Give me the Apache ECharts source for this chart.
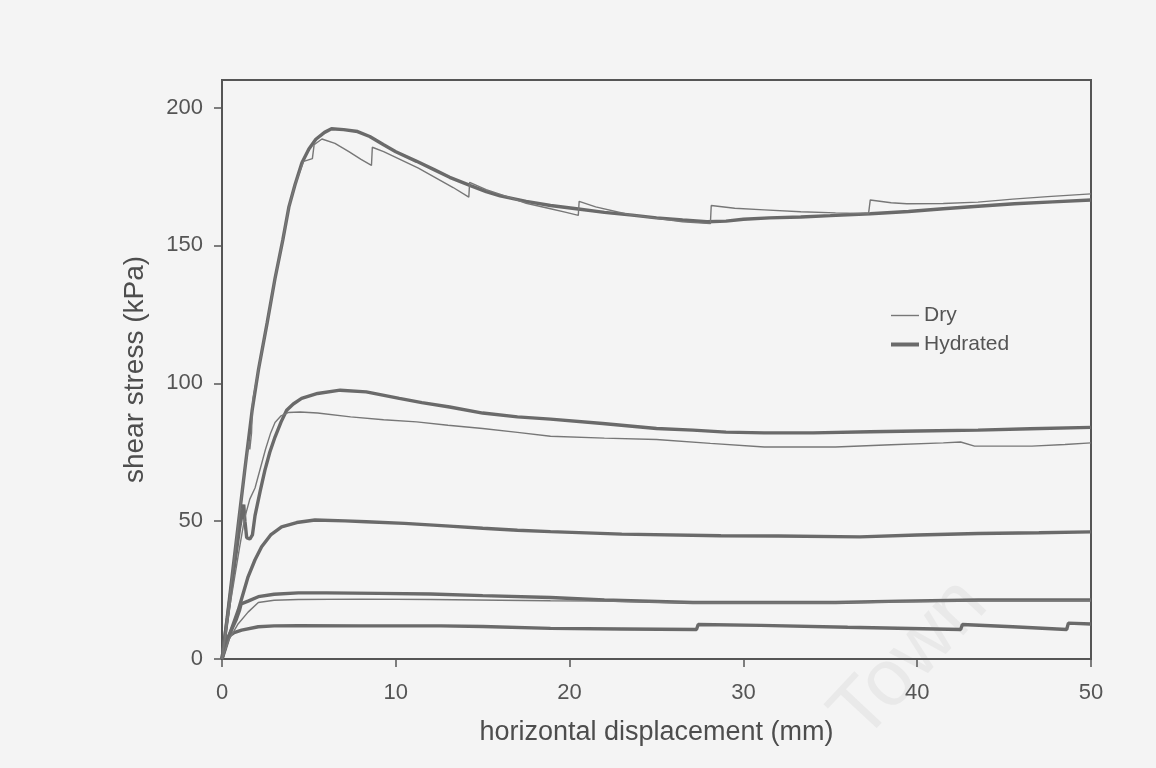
<!DOCTYPE html>
<html>
<head>
<meta charset="utf-8">
<script src="https://cdn.jsdelivr.net/npm/echarts@6/dist/echarts.min.js"></script>
<style>
  body { margin: 0; background: #f4f4f4; }
  #chart { width: 1156px; height: 768px; }
</style>
</head>
<body>
<div id="chart"></div>
<script>
// [displacement mm, shear stress kPa]
let hydrated1 = [[0,0],[0.3,15],[0.6,31],[0.92,48],[1.3,68],[1.73,90],[2.1,105],[2.6,122],[3.05,138],[3.5,152],[3.85,164],[4.2,172],[4.6,180],[5.0,185],[5.4,188.5],[5.9,191],[6.3,192.3],[7.0,192],[7.8,191.3],[8.5,189.5],[9.3,186.5],[10.0,184],[11.2,180.5],[12.2,177.5],[13.1,174.7],[14.3,171.7],[15.2,169.5],[16.0,168],[17.5,166],[18.9,164.5],[20.5,163.2],[22,162],[23.6,161],[25,160],[26.5,159.2],[27.9,158.6],[29,158.8],[30,159.5],[31.5,160],[33.3,160.3],[35,160.8],[37.3,161.5],[39.5,162.3],[41.5,163.3],[43.5,164.2],[45.6,165.1],[47.8,165.8],[50,166.5]];
let hydrated2 = [[0,0],[0.5,24],[1.0,47],[1.25,56],[1.32,50],[1.42,44],[1.6,43.5],[1.75,45],[1.9,52],[2.2,61],[2.47,68.5],[2.75,75],[3.05,80.5],[3.4,86],[3.72,90.2],[4.1,92.5],[4.58,94.5],[5.5,96.3],[6.8,97.5],[8.3,96.9],[10.2,94.5],[11.5,93],[13.1,91.4],[15,89.2],[17,87.8],[18.9,87],[21.9,85.4],[25,83.6],[27.1,83],[29,82.3],[31.2,82],[34,82],[37.3,82.4],[40,82.7],[43.5,83],[46.5,83.5],[50,84]];
let hydrated3 = [[0,0],[0.17,3.3],[0.5,10],[0.94,17.8],[1.5,29.8],[1.9,36],[2.28,40.7],[2.8,45],[3.43,47.9],[4.3,49.5],[5.35,50.4],[7.08,50.1],[8.3,49.8],[10.5,49.2],[13.1,48.2],[15,47.4],[17,46.7],[18.9,46.2],[23,45.3],[28.7,44.7],[32,44.6],[36.7,44.3],[40,45],[43.5,45.5],[47,45.8],[50,46.1]];
let hydrated4 = [[0,0],[0.36,8.1],[0.8,14],[1.0,17.5],[1.1,20],[1.5,21],[2.09,22.6],[3,23.5],[4.39,24],[6,24],[9,23.8],[12,23.6],[15,23],[18.9,22.3],[22,21.4],[27.1,20.5],[31,20.5],[35.3,20.5],[39,21],[43.5,21.4],[50,21.4]];
let hydrated5 = [[0,0],[0.1,3.3],[0.36,8.1],[0.7,9.6],[1.13,10.5],[2.09,11.7],[3,12],[4.39,12.1],[8,12],[12.6,12],[12.7,12.3],[15,11.8],[18.9,11.1],[23,10.9],[27.3,10.7],[27.4,12.5],[31,12.2],[36,11.5],[42.5,10.7],[42.6,12.5],[45.5,11.7],[48.6,10.7],[48.7,13],[50,12.7]];

let dry1 = [[0,0],[0.3,15],[0.6,31],[0.92,48],[1.3,68],[1.55,79],[1.6,76],[1.7,82],[1.75,92],[1.8,95],[2.1,105],[2.6,122],[3.05,138],[3.5,152],[3.85,164],[4.2,172],[4.7,180.5],[5.2,181.5],[5.3,186.5],[5.75,188.6],[6.5,187],[7.3,184],[8.0,181.2],[8.6,179],[8.65,185.6],[9.3,184],[10.3,181],[11.3,178],[12.3,174.5],[13.3,171],[14.2,167.5],[14.25,172.9],[15.2,170.2],[16.5,167.5],[17.5,165.3],[18.9,163.3],[19.8,162],[20.5,160.9],[20.55,166],[21.5,164],[23.4,161.2],[25,159.8],[26.5,158.6],[28.1,157.9],[28.15,164.5],[29.5,163.5],[31.2,162.9],[33.3,162.2],[35.3,161.8],[37.2,161.5],[37.3,166.5],[38.5,165.5],[39.4,165.1],[41.5,165.2],[43.5,165.7],[45.5,166.8],[47.5,167.7],[50,168.7]];
let dry2 = [[0,0],[0.5,21],[1.0,40],[1.3,51],[1.6,58],[1.9,62],[2.2,69],[2.5,76],[2.8,82],[3.05,85.8],[3.4,88.2],[3.8,89.4],[4.5,89.6],[5.5,89.2],[7.4,87.8],[9.3,86.8],[11.2,86],[13,84.8],[15,83.6],[17,82.2],[18.9,80.8],[22,80.1],[25,79.6],[28.1,78.2],[31.2,76.9],[35.3,76.9],[38.5,77.7],[41.5,78.4],[42.5,78.7],[43.3,77.2],[46.6,77.2],[48.5,77.8],[50,78.4]];
let dry4 = [[0,0],[0.4,7],[0.9,12.5],[1.5,17],[2.09,20.5],[3,21.3],[4.39,21.6],[8,21.7],[12,21.6],[16,21.3],[18.9,21.1],[22,21],[27,20.3],[35,20.3],[43,21.1],[50,21.1]];

let xTicks = [0, 10, 20, 30, 40, 50];
let yTicks = [0, 50, 100, 150, 200];

let hydratedSets = [hydrated1, hydrated2, hydrated3, hydrated4, hydrated5];
let drySets = [dry1, dry2, dry4];

let fontName = '"Liberation Sans", Arial, sans-serif';
let thickWidth = 3.4;
let thinWidth = 1.4;

function makeSeries(name, data, width, color) {
    return {
        name: name,
        type: 'line',
        data: data,
        symbol: 'none',
        silent: true,
        lineStyle: { width: width, color: color },
        itemStyle: { color: color }
    };
}

let series = [];
hydratedSets.forEach(function(d) { series.push(makeSeries('Hydrated', d, thickWidth, '#6a6a6a')); });
drySets.forEach(function(d) { series.push(makeSeries('Dry', d, thinWidth, '#777777')); });

let chart = echarts.init(document.getElementById('chart'));

let options = {
    animation: false,
    backgroundColor: '#f4f4f4',
    grid: {
        left: 222, right: 65, top: 80, bottom: 109,
        show: true,
        borderColor: '#555',
        borderWidth: 2,
        backgroundColor: 'transparent'
    },
    legend: {
        orient: 'vertical',
        left: 884,
        top: 300,
        itemWidth: 28,
        itemHeight: 14,
        itemGap: 8,
        itemStyle: { opacity: 0 },
        data: [
            { name: 'Dry', lineStyle: { width: thinWidth, color: '#777777' } },
            { name: 'Hydrated', lineStyle: { width: thickWidth + 0.6, color: '#6a6a6a' } }
        ],
        textStyle: { fontSize: 21, color: '#555', fontFamily: fontName }
    },
    xAxis: {
        type: 'value',
        min: xTicks[0],
        max: xTicks[xTicks.length - 1],
        interval: 10,
        name: 'horizontal displacement (mm)',
        nameLocation: 'middle',
        nameGap: 60,
        nameTextStyle: { fontSize: 27, color: '#4d4d4d', fontFamily: fontName },
        axisLine: { lineStyle: { color: '#555', width: 2 } },
        axisTick: { inside: false, length: 8, lineStyle: { color: '#555', width: 1.5 } },
        axisLabel: { fontSize: 22, color: '#555', margin: 23, fontFamily: fontName },
        splitLine: { show: false }
    },
    yAxis: {
        type: 'value',
        min: yTicks[0],
        max: 210,
        interval: 50,
        name: 'shear stress (kPa)',
        nameLocation: 'middle',
        nameGap: 73,
        nameTextStyle: { fontSize: 28, color: '#4d4d4d', fontFamily: fontName },
        axisLine: { lineStyle: { color: '#555', width: 2 } },
        axisTick: { inside: false, length: 8, lineStyle: { color: '#555', width: 1.5 } },
        axisLabel: { fontSize: 22, color: '#555', margin: 19, showMaxLabel: false, fontFamily: fontName },
        splitLine: { show: false }
    },
    graphic: [{
        type: 'text',
        x: 910,
        y: 660,
        rotation: 0.82,
        z: 0,
        silent: true,
        style: {
            text: 'Town',
            fill: '#e9e9e9',
            font: '80px "Liberation Sans", Arial, sans-serif',
            align: 'center',
            verticalAlign: 'middle'
        }
    }],
    series: series
};

chart.setOption(options);
</script>
</body>
</html>
